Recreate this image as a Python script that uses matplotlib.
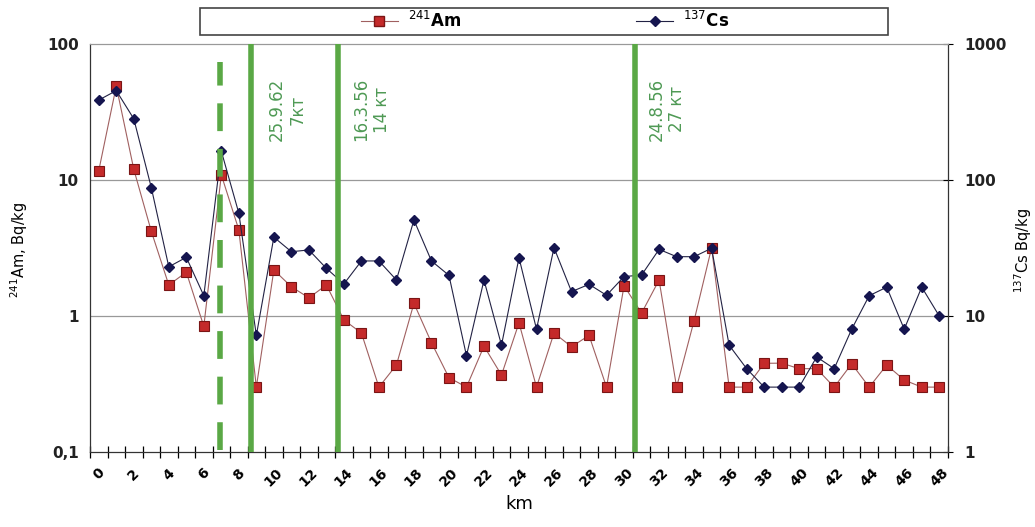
import matplotlib
matplotlib.use("Agg")
import matplotlib.pyplot as plt
from matplotlib.lines import Line2D
from matplotlib.patches import Rectangle
import numpy as np

# distance along the profile, km
km = list(range(0, 49))

# 241Am, Bq/kg (left axis)
am241 = [11.7, 49, 12.0, 4.2, 1.69, 2.1, 0.84, 10.9, 4.3, 0.30,
         2.18, 1.64, 1.36, 1.69, 0.935, 0.75, 0.30, 0.436, 1.24, 0.637,
         0.352, 0.30, 0.60, 0.368, 0.89, 0.30, 0.75, 0.594, 0.72, 0.30,
         1.67, 1.05, 1.84, 0.30, 0.925, 3.18, 0.30, 0.30, 0.449, 0.45,
         0.41, 0.41, 0.30, 0.445, 0.30, 0.436, 0.338, 0.30, 0.30]

# 137Cs, Bq/kg (right axis)
cs137 = [387, 454, 282, 88, 23, 27, 14.1, 163, 57, 7.2,
         38, 29.7, 30.6, 22.4, 17.2, 25.4, 25.4, 18.4, 50.8, 25.4,
         19.9, 5.1, 18.4, 6.1, 26.8, 8.0, 31.8, 15.1, 17.1, 14.2,
         19.5, 20, 30.9, 27.3, 27.3, 31.5, 6.1, 4.1, 3.0, 3.0,
         3.0, 5.0, 4.1, 8.0, 14.1, 16.3, 8.0, 16.3, 10]

# test marks (km position, label)
test_km = [8.7, 13.67, 30.64]
test_text = ["25.9.62\n7кт", "16.3.56\n14 кт", "24.8.56\n27 кт"]
test_text_km = [9.67, 14.47, 31.33]
dashed_km = 6.93

green = "#5aa845"
green_txt = "#4f9a55"

fig = plt.figure(figsize=(10.35, 5.27), dpi=100)
ax = fig.add_axes([90 / 1035, 1 - 452 / 527, 858 / 1035, 408 / 527])
ax2 = ax.twinx()

ax.plot(km, am241, color="#a06060", lw=0.8, marker="s", markersize=7.5,
        markerfacecolor="#c42a2a", markeredgecolor="#7a1515", markeredgewidth=0.8)
ax2.plot(km, cs137, color="#222244", lw=0.8, marker="D", markersize=5,
         markerfacecolor="#15154f", markeredgecolor="#15154f")

ax.set_yscale("log")
ax2.set_yscale("log")
ax.set_ylim(0.1, 100)
ax2.set_ylim(1, 1000)
ax.set_xlim(-0.5, 48.5)

# horizontal gridlines
for v in [1, 10]:
    ax.axhline(v, color="#999999", lw=0.9, zorder=0)

ax.set_yticks([0.1, 1, 10, 100])
ax.set_yticklabels(["0,1", "1", "10", "100"])
ax.yaxis.set_minor_locator(matplotlib.ticker.NullLocator())
ax2.set_yticks([1, 10, 100, 1000])
ax2.set_yticklabels(["1", "10", "100", "1000"])
ax2.yaxis.set_minor_locator(matplotlib.ticker.NullLocator())
ax.tick_params(axis="y", length=0, labelsize=11, pad=8)
ax2.tick_params(axis="y", length=7, direction="inout", labelsize=11, pad=8)
for lab in ax.get_yticklabels() + ax2.get_yticklabels():
    lab.set_fontweight("bold")
    lab.set_color("#222222")

# x ticks: labels every 2 km, marks between categories
ax.set_xticks(km[::2])
ax.set_xticklabels([str(k) for k in km[::2]], rotation=45, ha="center", va="top",
                   fontsize=10, fontweight="bold")
ax.set_xticks(np.arange(-0.5, 49, 1), minor=True)
ax.tick_params(axis="x", which="major", length=0, pad=10)
ax.tick_params(axis="x", which="minor", length=8, direction="inout", width=0.9)

for sp in ["left", "bottom", "right"]:
    ax2.spines[sp].set_color("#333333")
ax2.spines["top"].set_color("#999999")
ax.spines["top"].set_color("#999999")

ax.set_xlabel("km", fontsize=13, labelpad=4)
ax.set_ylabel("$^{241}$Am, Bq/kg", fontsize=10.5)
ax2.set_ylabel("$^{137}$Cs Bq/kg", fontsize=10.5)
ax.yaxis.set_label_coords(-0.070, 0.495)
ax2.yaxis.set_label_coords(1.075, 0.495)

# test lines
ax2.axvline(dashed_km, ymin=0.005, ymax=0.956, color=green, lw=4,
            dashes=(5, 3.2), zorder=5)
for x in test_km:
    ax2.axvline(x, ymin=0, ymax=1.0, color=green, lw=4, zorder=5)
for x, t in zip(test_text_km, test_text):
    ax2.text(x, 0.917, t, transform=ax2.get_xaxis_transform(), rotation=90,
             ha="left", va="top", multialignment="center", fontsize=12,
             color=green_txt)

# legend box at the top
fig.patches.append(Rectangle((200 / 1035, 1 - 35 / 527), 688 / 1035, 27 / 527,
                             transform=fig.transFigure, fill=False,
                             edgecolor="#444444", lw=1.2))
handles = [
    Line2D([], [], color="#a06060", lw=0.8, marker="s", markersize=7.5,
           markerfacecolor="#c42a2a", markeredgecolor="#7a1515"),
    Line2D([], [], color="#222244", lw=0.8, marker="D", markersize=5,
           markerfacecolor="#15154f", markeredgecolor="#15154f"),
]
fig.legend(handles, ["$^{241}$Am", "$^{137}$Cs"], loc="center",
           bbox_to_anchor=(545 / 1035, 1 - 21 / 527), ncol=2, frameon=False,
           prop={"size": 12, "weight": "bold"}, columnspacing=10.5,
           handlelength=2.2, handletextpad=0.6)

fig.savefig("out.png", dpi=100)
